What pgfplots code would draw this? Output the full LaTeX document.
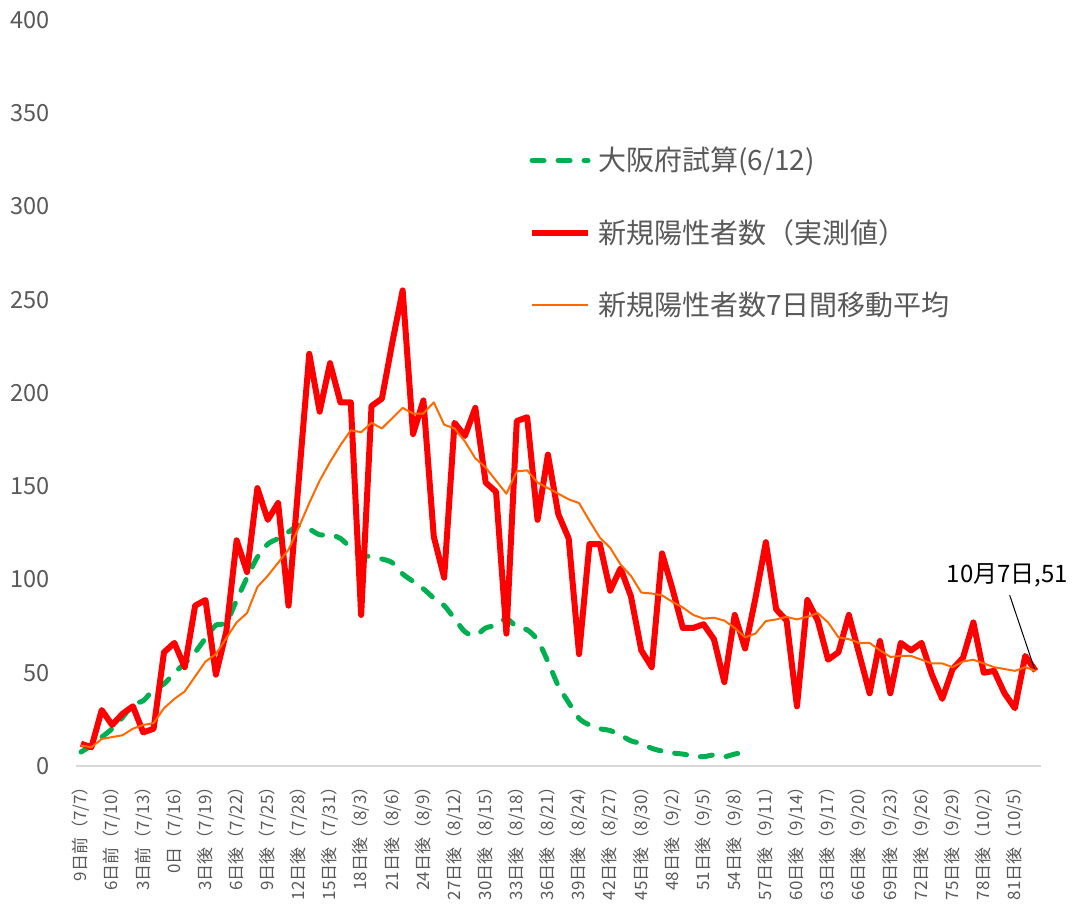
\documentclass[border=0pt]{standalone}
\usepackage{fontspec}
\setmainfont{Noto Sans CJK JP}
\usepackage{pgfplots}
\pgfplotsset{compat=1.18}
\definecolor{txtgray}{HTML}{595959}
\definecolor{axgray}{HTML}{D9D9D9}
\definecolor{myred}{HTML}{FF0000}
\definecolor{myorange}{HTML}{FF6A00}
\definecolor{mygreen}{HTML}{00B050}

\begin{document}
\begin{tikzpicture}
\useasboundingbox (-37.9pt,-69pt) rectangle (499.1pt,383pt);
\begin{axis}[
  at={(0,0)}, anchor=south west,
  scale only axis, width=482.5pt, height=373pt,
  xmin=-9.5, xmax=83.5, ymin=0, ymax=400,
  ytick={0,50,...,400},
  xtick={-9,-6,...,81},
  xticklabels={9日前（7/7）,6日前（7/10）,3日前（7/13）,0日（7/16）,3日後（7/19）,6日後（7/22）,9日後（7/25）,12日後（7/28）,15日後（7/31）,18日後（8/3）,21日後（8/6）,24日後（8/9）,27日後（8/12）,30日後（8/15）,33日後（8/18）,36日後（8/21）,39日後（8/24）,42日後（8/27）,45日後（8/30）,48日後（9/2）,51日後（9/5）,54日後（9/8）,57日後（9/11）,60日後（9/14）,63日後（9/17）,66日後（9/20）,69日後（9/23）,72日後（9/26）,75日後（9/29）,78日後（10/2）,81日後（10/5）},
  axis line style={draw=none},
  major tick length=0pt,
  tick style={draw=none},
  tick label style={text=txtgray},
  /pgf/number format/assume math mode=true,
  yticklabel style={font=\fontsize{11.8}{13}\selectfont, anchor=east, inner sep=0pt},
  yticklabel shift=12.9pt,
  xticklabel style={font=\fontsize{8.5}{9}\selectfont, rotate=90, anchor=east, inner sep=0pt},
  xticklabel shift=6pt,
  clip=false,
  legend cell align=left,
  legend image code/.code={\draw[#1] (0pt,0pt) -- (28pt,0pt);},
  legend style={at={(0.4697,0.7145)}, anchor=west, draw=none, fill=none,
    inner sep=0pt, outer sep=0pt, row sep=22.8pt, column sep=3.5pt,
    font=\fontsize{14}{16}\selectfont, text=txtgray, nodes={inner sep=0pt}},
]
\draw[axgray, line width=1pt] (rel axis cs:0,0) -- (rel axis cs:1,0);

\addplot[mygreen, line width=2.5pt, line cap=round, dash pattern=on 6pt off 7pt, smooth, tension=0.5] coordinates {
(-9,7.5)(-8,11)(-7,15.5)(-6,20)(-5,26)(-4,33)(-3,35)(-2,41)(-1,44)(0,50)
(1,55)(2,61)(3,68.5)(4,75.5)(5,77)(6,89)(7,101)(8,112)(9,119)(10,122)
(11,125.5)(12,129)(13,127)(14,124)(15,124)(16,122)(17,117)(18,113.6)(19,112)(20,111)
(21,109)(22,103)(23,99)(24,95)(25,90)(26,86)(27,79)(28,72)(29,70)(30,74)
(31,75.5)(32,79)(33,74.5)(34,73)(35,67.5)(36,56)(37,43)(38,34)(39,25.5)(40,22)
(41,20)(42,19)(43,16.5)(44,13.5)(45,12)(46,9.5)(47,8)(48,7)(49,6.4)(50,5.4)
(51,5)(52,5.9)(53,5)(54,6.4)(55,7.5)
};
\addlegendentry{大阪府試算(6/12)}

\addplot[myred, line width=3pt, line join=round] coordinates {
(-9,12)(-8,10)(-7,30)(-6,22)(-5,28)(-4,32)(-3,18)(-2,20)(-1,61)(0,66)
(1,53)(2,86)(3,89)(4,49)(5,72)(6,121)(7,104)(8,149)(9,132)(10,141)
(11,86)(12,154)(13,221)(14,190)(15,216)(16,195)(17,195)(18,81)(19,193)(20,197)
(21,227)(22,255)(23,178)(24,196)(25,123)(26,101)(27,184)(28,177)(29,192)(30,152)
(31,147)(32,71)(33,185)(34,187)(35,132)(36,167)(37,135)(38,122)(39,60)(40,119)
(41,119)(42,94)(43,106)(44,91)(45,62)(46,53)(47,114)(48,95)(49,74)(50,74)
(51,76)(52,68)(53,45)(54,81)(55,63)(56,90)(57,120)(58,84)(59,78)(60,32)
(61,89)(62,78)(63,57)(64,61)(65,81)(66,60)(67,39)(68,67)(69,39)(70,66)
(71,62)(72,66)(73,49)(74,36)(75,52)(76,58)(77,77)(78,50)(79,51)(80,39)
(81,31)(82,59)(83,51)
};
\addlegendentry{新規陽性者数（実測値）}

\addplot[myorange, line width=1pt, line join=round] coordinates {
(-9,11)(-8,10)(-7,14.5)(-6,15.5)(-5,16.5)(-4,20)(-3,22)(-2,23)(-1,31)(0,36)
(1,40)(2,48)(3,56)(4,60)(5,68.5)(6,77)(7,82)(8,96)(9,102)(10,109)
(11,116)(12,128)(13,141)(14,153)(15,163)(16,172)(17,180)(18,179)(19,184)(20,181)
(21,186.5)(22,192)(23,189)(24,189)(25,195)(26,183)(27,181)(28,174)(29,165)(30,160)
(31,153)(32,146)(33,158)(34,158.5)(35,152)(36,149)(37,146)(38,143)(39,141)(40,131.5)
(41,122.5)(42,117)(43,108)(44,102)(45,93)(46,92.5)(47,91.5)(48,88)(49,85)(50,81)
(51,79)(52,79.5)(53,78)(54,74)(55,69)(56,71)(57,77.7)(58,78.6)(59,80)(60,78.6)
(61,80)(62,82)(63,77)(64,69)(65,68)(66,66)(67,66)(68,62)(69,58.5)(70,59)
(71,59)(72,57)(73,55)(74,55)(75,53)(76,56)(77,57)(78,55)(79,53)(80,52)
(81,51)(82,53)(83,51)
};
\addlegendentry{新規陽性者数7日間移動平均}

\draw[black, line width=0.5pt] (axis cs:80.5,91.6) -- (axis cs:82.9,52);
\node[font=\fontsize{12}{13}\selectfont, text=black, inner sep=0pt] at (axis cs:80.3,102.4) {10月7日,51};
\end{axis}
\end{tikzpicture}
\end{document}
